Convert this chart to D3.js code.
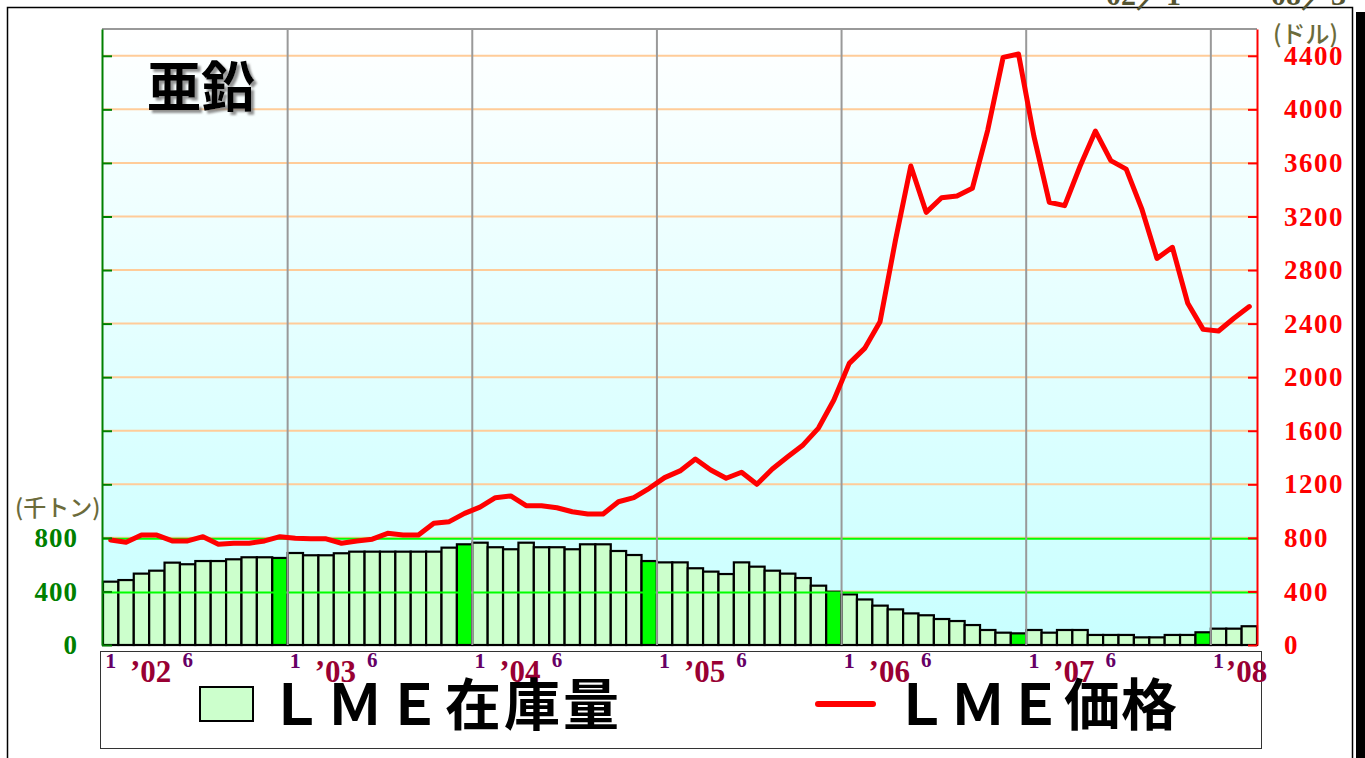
<!DOCTYPE html>
<html>
<head>
<meta charset="utf-8">
<script src="https://cdn.jsdelivr.net/npm/d3@7"></script>
<style>
  body { margin: 0; background: #fff; }
  svg { display: block; }
</style>
</head>
<body>
<div class="chart"></div>
<script>
// data: monthly, Jan 2002 .. Mar 2008
var years = ["’02", "’03", "’04", "’05", "’06", "’07", "’08"];
var monthLabels = ["1", "6"];

// LME stock (thousand tonnes)
var stock = [
  473, 485, 533, 555, 615, 603, 627, 627, 640, 655, 655, 650,
  687, 670, 670, 685, 697, 697, 697, 697, 697, 697, 727, 752,
  764, 730, 715, 764, 730, 730, 715, 752, 752, 702, 672, 627,
  617, 617, 573, 548, 530, 617, 585, 555, 533, 500, 443, 398,
  378, 340, 294, 266, 236, 222, 194, 179, 149, 112, 92, 87,
  112, 92, 112, 112, 75, 75, 75, 57, 57, 75, 75, 95,
  122, 122, 140
];

// LME price (USD)
var price = [
  784, 767, 821, 821, 777, 777, 809, 752, 759, 760, 777, 809,
  797, 793, 793, 760, 777, 790, 834, 821, 821, 909, 921, 983,
  1030, 1100, 1113, 1040, 1040, 1025, 995, 978, 978, 1070, 1100, 1170,
  1250, 1300, 1389, 1307, 1245, 1290, 1200, 1314, 1406, 1494, 1620, 1830,
  2103, 2215, 2414, 3020, 3577, 3231, 3340, 3353, 3410, 3845, 4388, 4413,
  3800, 3306, 3281, 3575, 3838, 3617, 3554, 3261, 2887, 2970, 2552, 2357,
  2345, 2440, 2527
];

var leftTicks = [0, 400, 800];
var rightTicks = d3.range(0, 4401, 400);

var svgWidth = 1365;
var svgHeight = 758;

var plot = { left: 102, right: 1257, top: 29, bottom: 645 };

var svg = d3.select(".chart")
  .append("svg")
  .attr("width", svgWidth)
  .attr("height", svgHeight);

var months = d3.range(stock.length);

var xScale = d3.scaleBand()
  .domain(months)
  .range([plot.left + 1, plot.right])
  .padding(0);

var yScale = d3.scaleLinear()
  .domain([0, 4600])
  .range([plot.bottom, plot.top]);

var bw = xScale.bandwidth();

// background gradient
var defs = svg.append("defs");
var grad = defs.append("linearGradient")
  .attr("id", "bg")
  .attr("x1", 0).attr("y1", 0).attr("x2", 0).attr("y2", 1);
grad.append("stop").attr("offset", "0%").attr("stop-color", "#ffffff");
grad.append("stop").attr("offset", "100%").attr("stop-color", "#c8ffff");

var shadow = defs.append("filter").attr("id", "shadow")
  .attr("x", "-10%").attr("y", "-10%").attr("width", "130%").attr("height", "130%");
shadow.append("feDropShadow")
  .attr("dx", 3).attr("dy", 3).attr("stdDeviation", 1.2)
  .attr("flood-color", "#777").attr("flood-opacity", 0.8);

// outer frame and right shadow band
svg.append("rect")
  .attr("x", 7.5).attr("y", 7.5)
  .attr("width", 1345).attr("height", 770)
  .attr("fill", "none").attr("stroke", "#000").attr("stroke-width", 1.5);
svg.append("rect")
  .attr("x", 1356).attr("y", 12)
  .attr("width", 9).attr("height", svgHeight)
  .attr("fill", "#000");

// period text cut off at the top
svg.append("text")
  .attr("x", 1346).attr("y", 5)
  .attr("text-anchor", "end")
  .style("font-family", "Liberation Serif, serif")
  .style("font-weight", "bold")
  .style("font-size", "30px")
  .attr("fill", "#555533")
  .text("02／1　～　08／3");

svg.append("rect")
  .attr("x", plot.left).attr("y", plot.top)
  .attr("width", plot.right - plot.left)
  .attr("height", plot.bottom - plot.top)
  .attr("fill", "url(#bg)");

// orange grid
svg.append("g").selectAll("line")
  .data(rightTicks.filter(d => d > 0))
  .enter().append("line")
  .attr("x1", plot.left).attr("x2", plot.right)
  .attr("y1", d => yScale(d)).attr("y2", d => yScale(d))
  .attr("stroke", "#ffcc99").attr("stroke-width", 2);

// stock bars, December highlighted
svg.append("g").selectAll("rect")
  .data(stock)
  .enter().append("rect")
  .attr("x", (d, i) => xScale(i))
  .attr("y", d => yScale(d))
  .attr("width", bw)
  .attr("height", d => plot.bottom - yScale(d))
  .attr("fill", (d, i) => i % 12 === 11 ? "#00ff00" : "#ccffcc")
  .attr("stroke", "#000")
  .attr("stroke-width", 2.2);

// green grid (left axis values)
svg.append("g").selectAll("line")
  .data(leftTicks.filter(d => d > 0))
  .enter().append("line")
  .attr("x1", plot.left).attr("x2", plot.right)
  .attr("y1", d => yScale(d) + 1).attr("y2", d => yScale(d) + 1)
  .attr("stroke", "#00ff00").attr("stroke-width", 2);

// year separators
svg.append("g").selectAll("line")
  .data(months.filter(i => i > 0 && i % 12 === 0))
  .enter().append("line")
  .attr("x1", i => xScale(i)).attr("x2", i => xScale(i))
  .attr("y1", plot.top).attr("y2", plot.bottom)
  .attr("stroke", "#999").attr("stroke-width", 2);

svg.append("line")
  .attr("x1", plot.left).attr("x2", plot.right)
  .attr("y1", plot.top).attr("y2", plot.top)
  .attr("stroke", "#999").attr("stroke-width", 2);

// price line
var line = d3.line()
  .x((d, i) => xScale(i) + bw / 2)
  .y(d => yScale(d));

svg.append("path")
  .datum(price)
  .attr("d", line)
  .attr("fill", "none")
  .attr("stroke", "#ff0000")
  .attr("stroke-width", 5)
  .attr("stroke-linejoin", "round")
  .attr("stroke-linecap", "round");

// left axis (green)
var leftAxis = d3.axisLeft(yScale)
  .tickValues(rightTicks)
  .tickSizeInner(-10)
  .tickSizeOuter(0)
  .tickPadding(24)
  .tickFormat(d => leftTicks.indexOf(d) >= 0 ? d : "");

var gl = svg.append("g")
  .attr("transform", `translate(${plot.left}, 0)`)
  .call(leftAxis);
gl.select(".domain").attr("stroke", "#008000").attr("stroke-width", 2);
gl.selectAll(".tick line").attr("stroke", "#008000").attr("stroke-width", 2);
gl.selectAll(".tick text")
  .attr("fill", "#008000")
  .style("font-family", "Liberation Serif, serif")
  .style("font-weight", "bold")
  .style("font-size", "27px")
  .style("letter-spacing", "1px");

// right axis (red)
var rightAxis = d3.axisRight(yScale)
  .tickValues(rightTicks)
  .tickSizeInner(-9)
  .tickSizeOuter(0)
  .tickPadding(27)
  .tickFormat(d3.format("d"));

var gr = svg.append("g")
  .attr("transform", `translate(${plot.right}, 0)`)
  .call(rightAxis);
gr.select(".domain").attr("stroke", "#ff0000").attr("stroke-width", 2);
gr.selectAll(".tick line").attr("stroke", "#ff0000").attr("stroke-width", 2);
gr.selectAll(".tick text")
  .attr("fill", "#ff0000")
  .style("font-family", "Liberation Serif, serif")
  .style("font-weight", "bold")
  .style("font-size", "27px")
  .style("letter-spacing", "1.5px");

// unit labels
svg.append("text")
  .attr("x", 15).attr("y", 516)
  .attr("fill", "#6b6b3b")
  .style("font-family", "Noto Sans CJK JP, sans-serif")
  .style("font-weight", "500")
  .style("font-size", "23px")
  .text("(千トン)");

svg.append("text")
  .attr("x", 1273).attr("y", 43)
  .attr("fill", "#6b6b3b")
  .style("font-family", "Noto Sans CJK JP, sans-serif")
  .style("font-weight", "500")
  .style("font-size", "24px")
  .text("(ドル)");

// title
svg.append("text")
  .attr("x", 147).attr("y", 107)
  .attr("fill", "#000")
  .attr("filter", "url(#shadow)")
  .style("font-family", "Noto Sans CJK JP, sans-serif")
  .style("font-weight", "700")
  .style("font-size", "54px")
  .text("亜鉛");

// legend box
svg.append("rect")
  .attr("x", 100.5).attr("y", 651.5)
  .attr("width", 1161).attr("height", 97)
  .attr("fill", "#fff")
  .attr("stroke", "#333").attr("stroke-width", 1);

// month / year labels under the bars
var janIdx = months.filter(i => i % 12 === 0);

svg.append("g").selectAll("text")
  .data(janIdx)
  .enter().append("text")
  .attr("x", i => xScale(i) + bw / 2)
  .attr("y", 668)
  .attr("text-anchor", "middle")
  .attr("fill", "#660066")
  .style("font-family", "Liberation Serif, serif")
  .style("font-weight", "bold")
  .style("font-size", "22px")
  .text(monthLabels[0]);

svg.append("g").selectAll("text")
  .data(janIdx.filter(i => i + 5 < stock.length))
  .enter().append("text")
  .attr("x", i => xScale(i + 5) + bw / 2)
  .attr("y", 667)
  .attr("text-anchor", "middle")
  .attr("fill", "#660066")
  .style("font-family", "Liberation Serif, serif")
  .style("font-weight", "bold")
  .style("font-size", "21px")
  .text(monthLabels[1]);

svg.append("g").selectAll("text")
  .data(years)
  .enter().append("text")
  .attr("x", (d, k) => xScale(k * 12) + bw / 2 + (k === years.length - 1 ? 28 : 40))
  .attr("y", 682)
  .attr("text-anchor", "middle")
  .attr("fill", "#990033")
  .style("font-family", "Liberation Serif, serif")
  .style("font-weight", "bold")
  .style("font-size", "31px")
  .text(d => d);

// legend items
svg.append("rect")
  .attr("x", 200).attr("y", 687)
  .attr("width", 53).attr("height", 34)
  .attr("fill", "#ccffcc")
  .attr("stroke", "#000").attr("stroke-width", 2);

svg.append("text")
  .attr("x", 268).attr("y", 725)
  .attr("fill", "#000")
  .style("font-family", "Noto Sans CJK JP, sans-serif")
  .style("font-weight", "600")
  .style("font-size", "56px")
  .style("letter-spacing", "3px")
  .text("ＬＭＥ在庫量");

svg.append("line")
  .attr("x1", 818).attr("x2", 873)
  .attr("y1", 704).attr("y2", 704)
  .attr("stroke", "#ff0000").attr("stroke-width", 6)
  .attr("stroke-linecap", "round");

svg.append("text")
  .attr("x", 893).attr("y", 725)
  .attr("fill", "#000")
  .style("font-family", "Noto Sans CJK JP, sans-serif")
  .style("font-weight", "600")
  .style("font-size", "56px")
  .style("letter-spacing", "1px")
  .text("ＬＭＥ価格");
</script>
</body>
</html>
